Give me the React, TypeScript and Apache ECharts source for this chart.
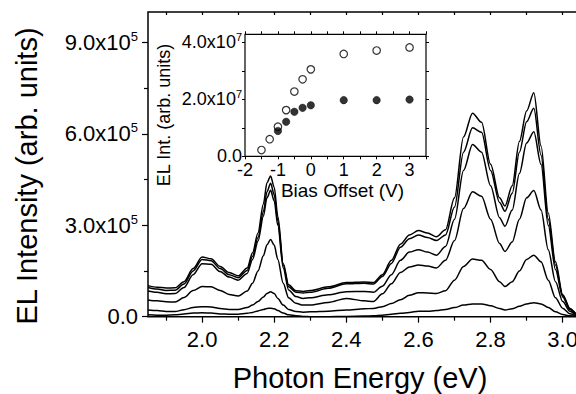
import React, { useEffect, useRef } from "react";
import * as echarts from "echarts";

// ---------- main panel data (EL intensity in units of 1e5) ----------
const energy = [1.85,1.875,1.90,1.925,1.95,1.975,2.00,2.025,2.05,2.075,2.10,2.125,2.14,2.155,2.17,2.18,2.19,2.20,2.21,2.225,2.24,2.26,2.28,2.30,2.35,2.40,2.45,2.475,2.50,2.525,2.55,2.575,2.60,2.625,2.65,2.675,2.70,2.725,2.75,2.775,2.80,2.825,2.84,2.86,2.88,2.90,2.92,2.94,2.96,2.98,3.00,3.02,3.04,3.06];

const spectrum1 = [1.02,0.97,0.94,0.95,1.15,1.58,1.96,1.90,1.65,1.45,1.34,1.60,2.10,2.75,3.70,4.40,4.62,4.25,3.30,1.75,1.05,0.85,0.83,0.86,0.98,1.12,1.14,1.12,1.38,1.85,2.38,2.68,2.83,2.75,2.62,2.85,3.90,5.90,6.68,6.38,5.00,3.90,3.63,4.30,5.75,6.75,7.35,5.60,3.40,1.80,0.72,0.27,0.08,0.03];
const spectrum2 = [0.96,0.91,0.86,0.87,1.07,1.50,1.88,1.84,1.58,1.38,1.28,1.52,1.98,2.60,3.45,4.10,4.38,4.00,3.15,1.70,0.98,0.80,0.78,0.80,0.93,1.08,1.10,1.07,1.32,1.75,2.28,2.56,2.68,2.60,2.50,2.68,3.60,5.40,6.20,6.05,4.80,3.75,3.46,4.05,5.40,6.40,6.84,5.30,3.20,1.70,0.70,0.26,0.08,0.03];
const spectrum3 = [0.84,0.80,0.75,0.76,0.96,1.38,1.74,1.72,1.48,1.30,1.20,1.42,1.88,2.48,3.30,3.90,4.15,3.80,3.00,1.60,0.88,0.66,0.60,0.62,0.72,0.82,0.83,0.80,1.00,1.38,1.85,2.12,2.20,2.12,2.02,2.30,3.20,4.80,5.65,5.40,4.30,3.25,2.97,3.50,4.70,5.70,6.07,5.00,3.00,1.55,0.65,0.24,0.07,0.03];
const spectrum4 = [0.55,0.52,0.49,0.48,0.63,0.86,0.99,0.98,0.86,0.73,0.68,0.84,1.10,1.50,2.00,2.36,2.53,2.35,1.88,1.10,0.62,0.44,0.38,0.38,0.47,0.60,0.52,0.50,0.75,1.08,1.45,1.63,1.70,1.66,1.60,1.85,2.50,3.55,4.10,3.95,3.20,2.40,2.14,2.45,3.20,3.90,4.14,3.50,2.20,1.15,0.50,0.18,0.05,0.02];
const spectrum5 = [0.22,0.20,0.17,0.17,0.23,0.30,0.33,0.32,0.27,0.24,0.24,0.30,0.38,0.50,0.65,0.76,0.82,0.76,0.60,0.38,0.24,0.17,0.15,0.16,0.18,0.22,0.26,0.27,0.33,0.43,0.56,0.70,0.79,0.78,0.76,0.85,1.20,1.65,1.89,1.85,1.55,1.15,0.99,1.15,1.50,1.88,2.02,1.80,1.20,0.62,0.28,0.10,0.03,0.01];
const spectrum6 = [0.06,0.05,0.05,0.06,0.09,0.12,0.13,0.12,0.09,0.08,0.08,0.11,0.14,0.19,0.24,0.27,0.28,0.26,0.20,0.12,0.06,0.03,0.01,0.00,0.00,0.01,0.02,0.03,0.05,0.08,0.11,0.14,0.18,0.18,0.20,0.24,0.30,0.38,0.42,0.42,0.36,0.27,0.22,0.26,0.34,0.42,0.46,0.42,0.30,0.16,0.07,0.03,0.01,0.00];

const mainXTicks = [2.0, 2.2, 2.4, 2.6, 2.8, 3.0];
const mainXMinorTicks = [1.9, 2.1, 2.3, 2.5, 2.7, 2.9];
const mainTopTicks = [1.9, 2.0, 2.1, 2.2, 2.3, 2.4, 2.5, 2.6, 2.7, 2.8, 2.9, 3.0];
const mainYTicks = [0, 3, 6, 9];
const mainYMinorTicks = [1.5, 4.5, 7.5];

// ---------- inset data (EL integrated intensity in units of 1e7) ----------
const biasOpen = [-1.5, -1.25, -1.0, -0.75, -0.5, -0.25, 0, 1, 2, 3];
const intOpen = [0.22, 0.6, 1.04, 1.62, 2.27, 2.7, 3.05, 3.59, 3.71, 3.82];
const biasFilled = [-1.0, -0.75, -0.5, -0.25, 0, 1, 2, 3];
const intFilled = [0.89, 1.21, 1.56, 1.7, 1.79, 1.97, 1.97, 1.99];

const insetXTicks = [-2, -1, 0, 1, 2, 3];
const insetXAllTicks = [-2, -1.5, -1, -0.5, 0, 0.5, 1, 1.5, 2, 2.5, 3, 3.5];
const insetYTicks = [0, 2, 4];
const insetYAllTicks = [0, 1, 2, 3, 4];

const FONT = "'Liberation Sans', Arial, Helvetica, sans-serif";
const BLACK = "#000";
const CHART_W = 590;

export default function App() {
  const ref = useRef<HTMLDivElement>(null);

  useEffect(() => {
    if (!ref.current) return;
    const chart = echarts.init(ref.current, undefined, { renderer: "svg" });

    const spectra = [spectrum1, spectrum2, spectrum3, spectrum4, spectrum5, spectrum6];

    const tickLine = { color: BLACK, width: 1.2 };
    const noLine = { show: false, onZero: false };

    const supFmt = (exp: string) => (v: number) =>
      Math.abs(v) < 1e-9 ? "{m|0.0}" : `{m|${v.toFixed(1)}x10}{s|${exp}}`;

    const option: any = {
      animation: false,
      backgroundColor: "#fff",
      grid: [
        {
          left: 148, top: 12, right: CHART_W - 580.7, bottom: 77.3,
          show: true, borderColor: BLACK, borderWidth: 1.5, backgroundColor: "transparent",
        },
        {
          left: 245, top: 34.3, right: CHART_W - 426, bottom: 237.7,
          show: true, borderColor: BLACK, borderWidth: 1.2, backgroundColor: "#fff",
        },
      ],
      xAxis: [
        {
          gridIndex: 0, type: "value", position: "bottom", min: 1.85, max: 3.05,
          axisLine: noLine, splitLine: { show: false },
          axisTick: { show: true, inside: false, length: 6, lineStyle: tickLine, customValues: mainXTicks },
          axisLabel: {
            show: true, customValues: mainXTicks, margin: 12, color: BLACK,
            fontFamily: FONT, fontSize: 22, formatter: (v: number) => v.toFixed(1),
          },
        },
        {
          gridIndex: 0, type: "value", position: "bottom", min: 1.85, max: 3.05,
          axisLine: noLine, splitLine: { show: false }, axisLabel: { show: false },
          axisTick: { show: true, inside: false, length: 4, lineStyle: tickLine, customValues: mainXMinorTicks },
        },
        {
          gridIndex: 0, type: "value", position: "top", min: 1.85, max: 3.05,
          axisLine: noLine, splitLine: { show: false }, axisLabel: { show: false },
          axisTick: { show: true, inside: true, length: 3, lineStyle: tickLine, customValues: mainTopTicks },
        },
        {
          gridIndex: 1, type: "value", position: "bottom", min: -2, max: 3.5,
          axisLine: noLine, splitLine: { show: false },
          axisTick: { show: true, inside: false, length: 3, lineStyle: { color: BLACK, width: 1 }, customValues: insetXAllTicks },
          axisLabel: {
            show: true, customValues: insetXTicks, margin: 5, color: BLACK,
            fontFamily: FONT, fontSize: 18, formatter: (v: number) => String(v),
          },
        },
        {
          gridIndex: 1, type: "value", position: "top", min: -2, max: 3.5,
          axisLine: noLine, splitLine: { show: false }, axisLabel: { show: false },
          axisTick: { show: true, inside: false, length: 3, lineStyle: { color: BLACK, width: 1 }, customValues: insetXAllTicks },
        },
      ],
      yAxis: [
        {
          gridIndex: 0, type: "value", position: "left", min: 0, max: 10,
          axisLine: noLine, splitLine: { show: false },
          axisTick: { show: true, inside: false, length: 6, lineStyle: tickLine, customValues: mainYTicks },
          axisLabel: {
            show: true, customValues: mainYTicks, margin: 10, color: BLACK,
            formatter: supFmt("5"),
            rich: {
              m: { fontFamily: FONT, fontSize: 22, color: BLACK },
              s: { fontFamily: FONT, fontSize: 13, color: BLACK, verticalAlign: "bottom", padding: [0, 0, 12, 0] },
            },
          },
        },
        {
          gridIndex: 0, type: "value", position: "left", min: 0, max: 10,
          axisLine: noLine, splitLine: { show: false }, axisLabel: { show: false },
          axisTick: { show: true, inside: false, length: 4, lineStyle: tickLine, customValues: mainYMinorTicks },
        },
        {
          gridIndex: 1, type: "value", position: "left", min: 0, max: 4.28,
          axisLine: noLine, splitLine: { show: false },
          axisTick: { show: true, inside: false, length: 3, lineStyle: { color: BLACK, width: 1 }, customValues: insetYAllTicks },
          axisLabel: {
            show: true, customValues: insetYTicks, margin: 3, color: BLACK,
            formatter: supFmt("7"),
            rich: {
              m: { fontFamily: FONT, fontSize: 18, color: BLACK },
              s: { fontFamily: FONT, fontSize: 11, color: BLACK, verticalAlign: "bottom", padding: [0, 0, 10, 0] },
            },
          },
        },
        {
          gridIndex: 1, type: "value", position: "right", min: 0, max: 4.28,
          axisLine: noLine, splitLine: { show: false }, axisLabel: { show: false },
          axisTick: { show: true, inside: false, length: 3, lineStyle: { color: BLACK, width: 1 }, customValues: insetYAllTicks },
        },
      ],
      graphic: [
        {
          type: "text", x: 26.5, y: 176, rotation: Math.PI / 2,
          style: { text: "EL Intensity (arb. units)", fontFamily: FONT, fontSize: 29, fill: BLACK, textAlign: "center", textVerticalAlign: "middle" },
        },
        {
          type: "text", x: 360, y: 378,
          style: { text: "Photon Energy (eV)", fontFamily: FONT, fontSize: 29, fill: BLACK, textAlign: "center", textVerticalAlign: "middle" },
        },
        {
          type: "text", x: 164, y: 115, rotation: Math.PI / 2,
          style: { text: "EL Int. (arb. units)", fontFamily: FONT, fontSize: 18, fill: BLACK, textAlign: "center", textVerticalAlign: "middle" },
        },
        {
          type: "text", x: 342.5, y: 190,
          style: { text: "Bias Offset (V)", fontFamily: FONT, fontSize: 19, fill: BLACK, textAlign: "center", textVerticalAlign: "middle" },
        },
      ],
      series: [
        ...spectra.map((s, k) => ({
          name: `spectrum${k + 1}`,
          type: "line",
          xAxisIndex: 0, yAxisIndex: 0,
          data: energy.map((e, i) => [e, s[i]]),
          showSymbol: false, symbol: "none",
          smooth: 0.3, smoothMonotone: "x",
          lineStyle: { color: BLACK, width: 1.5 },
          clip: true,
        })),
        {
          name: "open", type: "scatter", xAxisIndex: 3, yAxisIndex: 2,
          data: biasOpen.map((b, i) => [b, intOpen[i]]),
          symbol: "circle", symbolSize: 7.5,
          itemStyle: { color: "#fff", borderColor: BLACK, borderWidth: 1.2 },
          z: 3,
        },
        {
          name: "filled", type: "scatter", xAxisIndex: 3, yAxisIndex: 2,
          data: biasFilled.map((b, i) => [b, intFilled[i]]),
          symbol: "circle", symbolSize: 7.5,
          itemStyle: { color: BLACK, borderColor: BLACK, borderWidth: 0.5 },
          z: 4,
        },
      ],
    };

    chart.setOption(option);
    return () => chart.dispose();
  }, []);

  return (
    <div style={{ position: "fixed", left: 0, top: 0, width: 576, height: 394, overflow: "hidden", background: "#fff" }}>
      <div ref={ref} style={{ width: CHART_W, height: 394 }} />
    </div>
  );
}
